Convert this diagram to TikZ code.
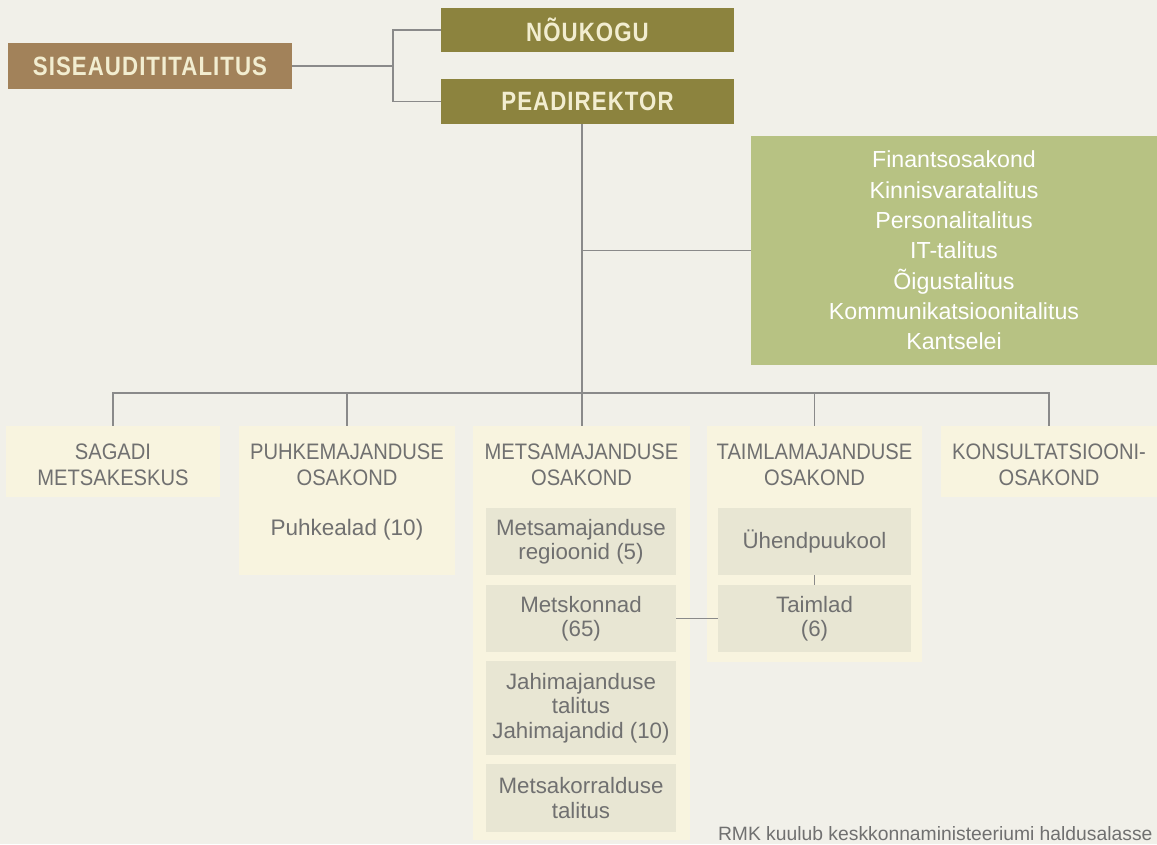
\documentclass[tikz,border=0pt]{standalone}
\usepackage{fontspec}
\setmainfont{Liberation Sans}
\newfontfamily\capsfont[FakeStretch=0.9]{Liberation Sans}
\newfontfamily\headfont[FakeStretch=0.84,LetterSpace=4]{Liberation Sans}

\definecolor{bg}{HTML}{F1F0E9}
\definecolor{brownbox}{HTML}{A2825A}
\definecolor{olivebox}{HTML}{8C833E}
\definecolor{greenbox}{HTML}{B7C283}
\definecolor{creambox}{HTML}{F8F4DF}
\definecolor{innerbox}{HTML}{E8E6D3}
\definecolor{headtext}{HTML}{F2EDD0}
\definecolor{greytext}{HTML}{707070}
\definecolor{linecol}{HTML}{8A8A8A}

\begin{document}
\begin{tikzpicture}[x=1pt,y=-1pt,
  box/.style={rectangle,inner sep=0pt,align=center},
  head/.style={box,fill=olivebox,text=headtext,minimum width=293,minimum height=45,
    font=\headfont\bfseries\fontsize{26.5}{30}\selectfont},
  dept/.style={box,fill=creambox},
  title/.style={box,anchor=north,text=greytext,font=\capsfont\fontsize{22.4}{26}\selectfont},
  sub/.style={box,fill=innerbox,text=greytext,minimum width=190,minimum height=67,
    font=\fontsize{22.3}{24.5}\selectfont},
  conn/.style={draw=linecol,line width=1.3pt}]

\fill[bg] (0,0) rectangle (1157,844);
\useasboundingbox (0,0) rectangle (1157,844);

% top of the chart
\node[head,fill=brownbox,minimum width=284,minimum height=46] (siseaudit) at (150,66) {SISEAUDITITALITUS};
\node[head,minimum height=44] (noukogu) at (587.5,30) {NÕUKOGU};
\node[head] (peadirektor) at (587.5,101.5) {PEADIREKTOR};

\node[box,fill=greenbox,text=white,minimum width=406,minimum height=229,
  font=\fontsize{23.2}{30.3}\selectfont] (tugi) at (954,250.5)
  {Finantsosakond\\Kinnisvaratalitus\\Personalitalitus\\IT-talitus\\Õigustalitus\\Kommunikatsioonitalitus\\Kantselei};

\coordinate (jn) at (393,66);
\coordinate (bus) at (582,393);

% departments
\node[dept,minimum width=214,minimum height=71] (sagadi) at (113,461.5) {};
\node[dept,minimum width=216,minimum height=149] (puhke) at (347,500.5) {};
\node[dept,minimum width=217,minimum height=414] (metsa) at (581.5,633) {};
\node[dept,minimum width=215,minimum height=236] (taimla) at (814.5,544) {};
\node[dept,minimum width=216,minimum height=71] (konsult) at (1049,461.5) {};

\node[title] (sagadi-title) at ([yshift=-18pt]sagadi.north) {SAGADI\\METSAKESKUS};
\node[title] (puhke-title) at ([yshift=-18pt]puhke.north) {PUHKEMAJANDUSE\\OSAKOND};
\node[title] (metsa-title) at ([yshift=-18pt]metsa.north) {METSAMAJANDUSE\\OSAKOND};
\node[title] (taimla-title) at ([yshift=-18pt]taimla.north) {TAIMLAMAJANDUSE\\OSAKOND};
\node[title] (konsult-title) at ([yshift=-18pt]konsult.north) {KONSULTATSIOONI-\\OSAKOND};
\node[box,text=greytext,font=\fontsize{22.5}{26}\selectfont] (puhkealad) at (347,530) {Puhkealad (10)};

% units inside
\node[sub] (regioonid) at (581,541.5) {Metsamajanduse\\regioonid (5)};
\node[sub] (metskonnad) at (581,618.5) {Metskonnad\\(65)};
\node[sub,minimum height=94] (jahi) at (581,708) {Jahimajanduse\\talitus\\Jahimajandid (10)};
\node[sub,minimum height=68] (korraldus) at (581,798) {Metsakorralduse\\talitus};
\node[sub,minimum width=193] (yhend) at (814.5,541.5) {Ühendpuukool};
\node[sub,minimum width=193] (taimlad) at (814.5,618.5) {Taimlad\\(6)};

% lines
\draw[conn] (siseaudit.east) -- (jn);
\draw[conn] (noukogu.west) -| (jn) |- (peadirektor.west);
\draw[conn] (peadirektor.south -| bus) -- (bus);
\draw[conn] (tugi.west) -- (tugi.west -| bus);
\draw[conn] (bus) -| (sagadi.north);
\draw[conn] (bus) -| (puhke.north);
\draw[conn] (bus) -- (metsa.north -| bus);
\draw[conn] (bus) -| (taimla.north);
\draw[conn] (bus) -| (konsult.north);
\draw[conn] (metskonnad.east) -- (taimlad.west);
\draw[conn] (yhend.south) -- (taimlad.north);

\node[anchor=base east,text=greytext,font=\fontsize{19.3}{22}\selectfont] (note) at (1156,840)
  {RMK kuulub keskkonnaministeeriumi haldusalasse};

\end{tikzpicture}
\end{document}
